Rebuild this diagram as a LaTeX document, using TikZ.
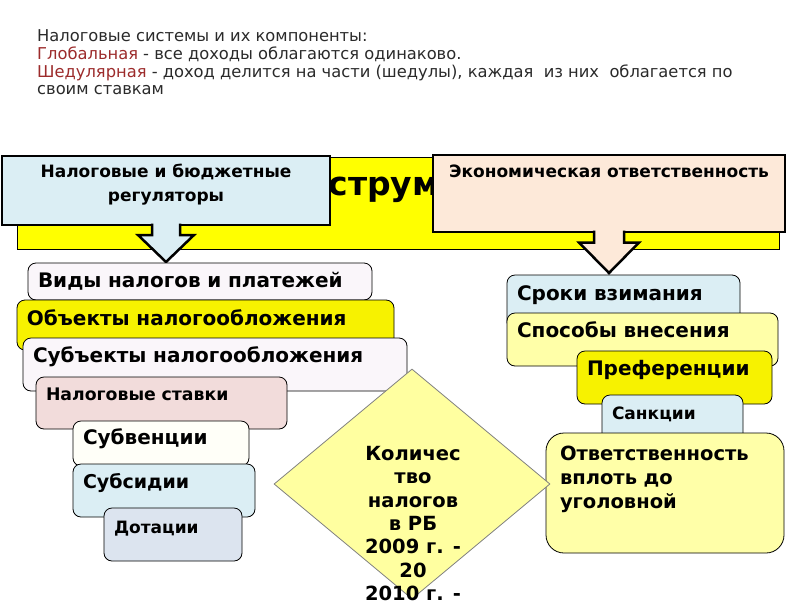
\documentclass[tikz,border=0pt]{standalone}
\usepackage{fontspec}
\setmainfont{DejaVu Sans}
\usetikzlibrary{shapes.geometric}

\definecolor{bandyellow}{HTML}{FFFF00}
\definecolor{regblue}{HTML}{DBEEF4}
\definecolor{peach}{HTML}{FDE9D9}
\definecolor{lilac}{HTML}{FAF6FA}
\definecolor{boxyellow}{HTML}{F7F200}
\definecolor{paleyellow}{HTML}{FFFFA8}
\definecolor{rose}{HTML}{F2DCDB}
\definecolor{greyblue}{HTML}{DCE4EF}
\definecolor{cream}{HTML}{FFFFF8}
\definecolor{diamyellow}{HTML}{FFFFA0}
\definecolor{darkred}{HTML}{9C2B2B}
\definecolor{introtext}{HTML}{2A2A2A}

\begin{document}
\begin{tikzpicture}[x=1pt,y=-1pt,
  band/.style={draw=black,line width=1pt,fill=bandyellow,anchor=north west,inner sep=0pt,outer sep=0pt},
  hdr/.style={draw=black,line width=2.5pt,anchor=north west,inner sep=0pt,outer sep=0pt,align=center,font=\fontsize{17}{24}\selectfont\bfseries},
  itembox/.style={draw=black,line width=0.8pt,rounded corners=8pt,anchor=north west,inner xsep=10pt,inner ysep=0pt,outer sep=0pt,align=left,text height=24.5pt,font=\fontsize{20}{23}\selectfont\bfseries},
  head/.style={line width=2.5pt,line join=miter}]

\useasboundingbox (0,0) rectangle (800,600);

\node[anchor=base west,inner sep=0pt,text=introtext,font=\fontsize{16.3}{17.3}\selectfont] (intro) at (37,41.5) {\begin{tabular}[t]{@{}l@{}}Налоговые системы и их компоненты:\\
\textcolor{darkred}{Глобальная} - все доходы облагаются одинаково.\\
\textcolor{darkred}{Шедулярная} - доход делится на части (шедулы), каждая\ \ из них\ \ облагается по\\
своим ставкам\end{tabular}};

\node[band,minimum width=762pt,minimum height=92pt] (band) at (17,157) {};
\node[anchor=base west,inner sep=0pt,font=\fontsize{33}{38}\selectfont\bfseries] (title) at (278,195) {Инструменты};

\node[hdr,fill=regblue,minimum width=328pt,text height=21pt,text depth=48pt] (reg) at (2,156) {\begin{tabular}[t]{@{}c@{}}Налоговые и бюджетные\\регуляторы\end{tabular}};
\fill[regblue] ([xshift=-14pt,yshift=1.3pt]reg.south) rectangle ([xshift=14pt,yshift=-2pt]reg.south);
\filldraw[head,fill=regblue] ([xshift=-14pt,yshift=1.3pt]reg.south) -- ++(0,11.3) -- ++(-14,0) -- ([yshift=-37pt]reg.south) -- ++(28,-27) -- ++(-14,0) -- ++(0,-11.3);

\node[hdr,fill=peach,minimum width=352pt,text height=22pt,text depth=55pt] (econ) at (433,155) {Экономическая ответственность};
\fill[peach] ([xshift=-15pt,yshift=1.3pt]econ.south) rectangle ([xshift=15pt,yshift=-2pt]econ.south);
\filldraw[head,fill=peach] ([xshift=-15pt,yshift=1.3pt]econ.south) -- ++(0,11.8) -- ++(-15,0) -- ([yshift=-41pt]econ.south) -- ++(30,-30.5) -- ++(-15,0) -- ++(0,-11.8);

\node[itembox,fill=lilac,text width=324pt,text depth=12.5pt] (vidy) at (28,263) {Виды налогов и платежей};
\node[itembox,fill=boxyellow,text width=357pt,text height=25.5pt,text depth=24.5pt] (obekty) at (17,300) {Объекты налогообложения};
\node[itembox,fill=lilac,text width=364pt,text depth=28.5pt] (subekty) at (23,338) {Субъекты налогообложения};
\node[itembox,fill=rose,text width=231pt,text height=23pt,text depth=29pt,font=\fontsize{17.3}{20}\selectfont\bfseries] (stavki) at (36,377) {Налоговые ставки};
\node[itembox,fill=cream,text width=156pt,text height=23.5pt,text depth=21.5pt] (subvencii) at (73,421) {Субвенции};
\node[itembox,fill=regblue,text width=162pt,text height=24pt,text depth=29pt,font=\fontsize{19}{20}\selectfont\bfseries] (subsidii) at (73,464) {Субсидии};
\node[itembox,fill=greyblue,text width=118pt,text height=25pt,text depth=28pt,font=\fontsize{17}{20}\selectfont\bfseries] (dotacii) at (104,508) {Дотации};

\node[itembox,fill=regblue,text width=213pt,text height=25.5pt,text depth=29.5pt] (sroki) at (507,275) {Сроки взимания};
\node[itembox,fill=paleyellow,text width=251pt,text depth=28.5pt] (sposoby) at (507,313) {Способы внесения};
\node[itembox,fill=boxyellow,text width=175pt,text depth=28.5pt] (pref) at (577,351) {Преференции};
\node[itembox,fill=regblue,text width=121pt,text height=24pt,text depth=26pt,font=\fontsize{17}{20}\selectfont\bfseries] (sankcii) at (602,395) {Санкции};
\node[itembox,fill=paleyellow,rounded corners=18pt,inner xsep=14pt,text width=210pt,text height=27pt,text depth=93pt,font=\fontsize{19.5}{24}\selectfont\bfseries] (otvet) at (546,433) {\begin{tabular}[t]{@{}l@{}}Ответственность\\вплоть до\\уголовной\end{tabular}};

\node[diamond,draw=gray,line width=0.8pt,fill=diamyellow,minimum width=276pt,minimum height=230pt,inner sep=0pt] (kol) at (412,484) {};
\node[anchor=base,inner sep=0pt,font=\fontsize{19.5}{23.3}\selectfont\bfseries] (koltext) at (413,460.5) {\begin{tabular}[t]{@{}c@{}}Количес\\тво\\налогов\\в РБ\\2009 г. -\\20\\2010 г. -\end{tabular}};

\end{tikzpicture}
\end{document}
